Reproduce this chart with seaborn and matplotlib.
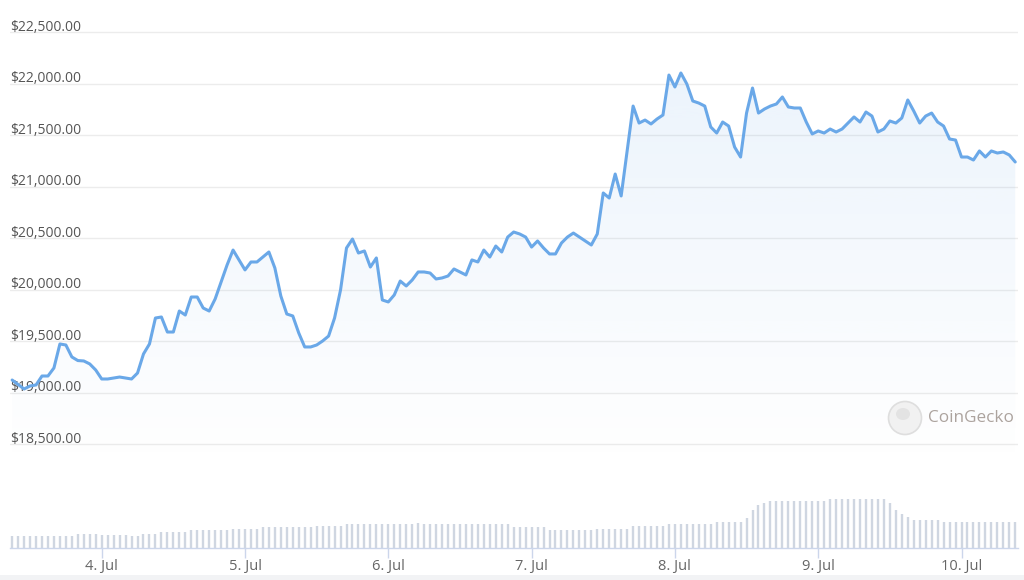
import numpy as np
import pandas as pd
import matplotlib
matplotlib.use("Agg")
import matplotlib.pyplot as plt
import matplotlib.dates as mdates
from matplotlib.patches import Ellipse, Rectangle
import seaborn as sns

# ---------------- data (hourly) ----------------
start_time = "2022-07-03 09:00"

price = [
    19124, 19080, 19037, 19066, 19076, 19163, 19163, 19241, 19474, 19464,
    19348, 19313, 19309, 19280, 19221, 19134, 19134, 19144, 19153, 19144,
    19134, 19192, 19377, 19474, 19726, 19736, 19590, 19590, 19794, 19755,
    19930, 19930, 19823, 19794, 19911, 20076, 20241, 20386, 20290, 20193,
    20270, 20270, 20318, 20367, 20212, 19940, 19765, 19746, 19581, 19445,
    19445, 19464, 19503, 19551, 19726, 19998, 20406, 20493, 20357, 20377,
    20221, 20309, 19901, 19882, 19950, 20085, 20037, 20095, 20173, 20173,
    20163, 20105, 20115, 20134, 20202, 20173, 20144, 20290, 20270, 20386,
    20318, 20425, 20367, 20512, 20561, 20542, 20512, 20415, 20474, 20406,
    20348, 20348, 20454, 20512, 20551, 20512, 20474, 20435, 20542, 20940,
    20891, 21124, 20911, 21348, 21784, 21619, 21648, 21610, 21658, 21697,
    22085, 21969, 22105, 21998, 21833, 21813, 21784, 21581, 21522, 21629,
    21590, 21386, 21289, 21716, 21959, 21716, 21755, 21784, 21804, 21872,
    21775, 21765, 21765, 21629, 21513, 21542, 21522, 21561, 21532, 21561,
    21619, 21678, 21629, 21726, 21687, 21532, 21561, 21639, 21619, 21668,
    21843, 21736, 21619, 21687, 21716, 21629, 21590, 21464, 21454, 21289,
    21289, 21260, 21348, 21289, 21348, 21328, 21338, 21309, 21241,
]

# 24h volume, billions USD (relative)
volume_b = [
    10.1, 10.1, 10.1, 10.1, 10.1, 10.1, 10.1, 10.1, 10.1, 10.1,
    10.1, 12.1, 12.1, 12.1, 12.1, 10.9, 10.9, 10.9, 10.9, 10.9,
    10.1, 10.1, 12.1, 12.1, 12.1, 13.5, 13.5, 13.5, 13.5, 13.5,
    15.3, 15.3, 15.3, 15.3, 15.3, 15.3, 15.3, 16.4, 16.4, 16.4,
    16.4, 16.4, 18.1, 18.1, 18.1, 18.1, 18.1, 18.1, 18.1, 18.1,
    18.1, 18.7, 18.7, 18.7, 18.7, 18.7, 20.7, 20.7, 20.7, 20.7,
    20.7, 20.7, 20.7, 20.7, 20.7, 20.7, 20.7, 20.7, 21.5, 20.7,
    20.7, 20.7, 20.7, 20.7, 20.7, 20.7, 20.7, 20.7, 20.7, 20.7,
    20.7, 20.7, 20.7, 20.7, 18.1, 18.1, 18.1, 18.1, 18.1, 18.1,
    15.8, 15.8, 15.8, 15.8, 15.8, 15.8, 15.8, 15.8, 16.4, 16.4,
    16.4, 16.4, 16.4, 16.4, 18.7, 18.7, 18.7, 18.7, 18.7, 18.7,
    20.7, 20.7, 20.7, 20.7, 20.7, 20.7, 20.7, 20.7, 22.2, 22.2,
    22.2, 22.2, 22.2, 25.9, 32.8, 36.8, 38.8, 40.5, 40.5, 40.5,
    40.5, 40.5, 40.5, 40.5, 40.5, 40.5, 40.5, 42.0, 42.0, 42.0,
    42.0, 42.0, 42.0, 42.0, 42.0, 42.0, 42.0, 38.8, 32.5, 29.3,
    26.7, 23.9, 23.9, 23.9, 23.9, 23.9, 22.2, 22.2, 22.2, 22.2,
    22.2, 22.2, 22.2, 22.2, 22.2, 22.2, 22.2, 22.2, 22.2,
]

y_ticks = [18500, 19000, 19500, 20000, 20500, 21000, 21500, 22000, 22500]
y_tick_labels = ["$18,500.00", "$19,000.00", "$19,500.00", "$20,000.00",
                 "$20,500.00", "$21,000.00", "$21,500.00", "$22,000.00",
                 "$22,500.00"]
day_ticks = ["2022-07-04", "2022-07-05", "2022-07-06", "2022-07-07",
             "2022-07-08", "2022-07-09", "2022-07-10"]
day_labels = ["4. Jul", "5. Jul", "6. Jul", "7. Jul", "8. Jul", "9. Jul", "10. Jul"]

# ---------------- styling ----------------
W, H = 1024, 580
LINE_COLOR = "#6aa8e8"
TEXT_COLOR = "#555555"
AXIS_COLOR = "#ccd6eb"

sns.set_theme(style="white")
plt.rcParams["font.family"] = ["Open Sans", "DejaVu Sans"]

times = pd.date_range(start_time, periods=len(price), freq="h")
df = pd.DataFrame({"time": times, "price": price, "volume": volume_b})

fig = plt.figure(figsize=(W / 100, H / 100), dpi=100)
fig.patch.set_facecolor("white")


def px_rect(l, t, r, b):
    return [l / W, 1 - b / H, (r - l) / W, (b - t) / H]


ax = fig.add_axes(px_rect(10, 0, 1018, 470))
axv = fig.add_axes(px_rect(10, 490, 1018, 548))

d0 = mdates.date2num(pd.Timestamp("2022-07-04"))
px_per_day = 143.3
x_left = d0 + (10 - 101.7) / px_per_day
x_right = d0 + (1018 - 101.7) / px_per_day
y_top, y_bot = 22813.6, 18250.4

# gradient area fill under the price line
poly = ax.fill_between(df["time"], df["price"], y_bot, facecolor="none",
                       edgecolor="none")
grad = np.zeros((256, 1, 4))
rgb = matplotlib.colors.to_rgb(LINE_COLOR)
grad[..., 0], grad[..., 1], grad[..., 2] = rgb
grad[:, 0, 3] = np.linspace(0.0, 0.13, 256)
xn = mdates.date2num(df["time"])
im = ax.imshow(grad, extent=[xn[0], xn[-1], 18300, 22150], origin="lower",
               aspect="auto", zorder=1, interpolation="bicubic")
im.set_clip_path(poly.get_paths()[0], transform=ax.transData)

sns.lineplot(data=df, x="time", y="price", ax=ax, color=LINE_COLOR,
             linewidth=2.2, zorder=4)

ax.set_xlim(x_left, x_right)
ax.set_ylim(y_bot, y_top)
ax.set_yticks(y_ticks)
ax.yaxis.grid(True, color="#ececec", linewidth=1.0)
ax.xaxis.grid(False)
ax.set_axisbelow(True)
ax.tick_params(left=False, labelleft=False, bottom=False, labelbottom=False)
ax.set_xlabel("")
ax.set_ylabel("")
sns.despine(ax=ax, left=True, bottom=True)

for t, lab in zip(y_ticks, y_tick_labels):
    ax.annotate(lab, xy=(0, t), xycoords=("axes fraction", "data"),
                xytext=(0.3, 1.2), textcoords="offset points", ha="left",
                va="baseline", fontsize=10, color=TEXT_COLOR, zorder=3)

# volume bars
axv.vlines(mdates.date2num(df["time"]), 0, df["volume"], colors="#cfd6e1",
           linewidth=1.7)
axv.set_xlim(x_left, x_right)
axv.set_ylim(0, 50)
axv.set_yticks([])
axv.set_xticks([mdates.date2num(pd.Timestamp(d)) for d in day_ticks])
axv.set_xticklabels(day_labels)
axv.tick_params(axis="x", bottom=True, direction="out", length=7.2,
                width=1, color=AXIS_COLOR, labelsize=10.5, labelcolor="#666666",
                pad=1)
for s in ["top", "left", "right"]:
    axv.spines[s].set_visible(False)
axv.spines["bottom"].set_color(AXIS_COLOR)
axv.spines["bottom"].set_linewidth(1)
axv.patch.set_alpha(0)

# watermark
fig.add_artist(Ellipse((905 / W, 1 - 418 / H), 33 / W, 33 / H,
                       transform=fig.transFigure, facecolor="#f1f1f1",
                       edgecolor="#dedede", linewidth=1.2))
fig.add_artist(Ellipse((903 / W, 1 - 414 / H), 14 / W, 12 / H,
                       transform=fig.transFigure, facecolor="#e3e3e3",
                       edgecolor="none"))
fig.text(928 / W, 1 - 418 / H, "CoinGecko", ha="left", va="center",
         fontsize=12.3, color="#aca39e")

# light band at the bottom edge
fig.add_artist(Rectangle((0, 0), 1, 5 / H, transform=fig.transFigure,
                         facecolor="#f2f3f5", edgecolor="none"))

fig.savefig("out.png", dpi=100)
